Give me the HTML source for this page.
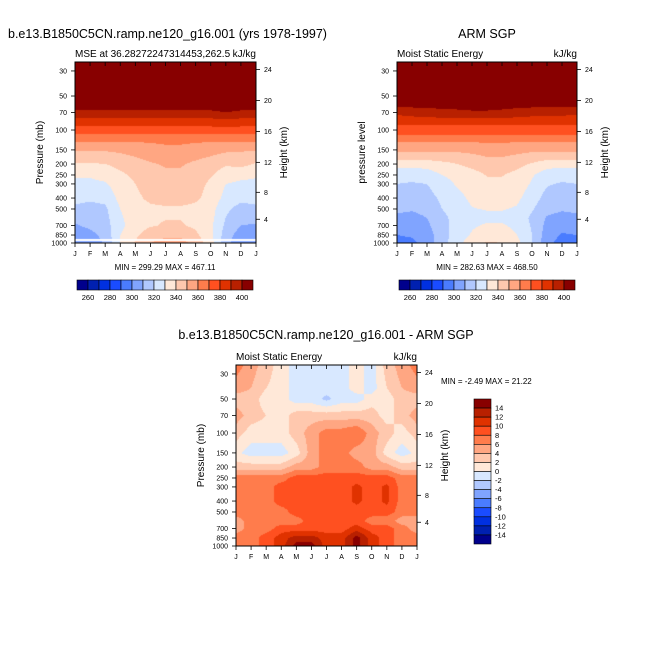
<!DOCTYPE html>
<html><head><meta charset="utf-8">
<style>
html,body{margin:0;padding:0;background:#fff;}
#root{position:relative;width:654px;height:654px;overflow:hidden;font-family:"Liberation Sans",sans-serif;}
svg{position:absolute;left:0;top:0;}
canvas{position:absolute;}
</style></head>
<body>
<div id="root">
<canvas id="c1"></canvas>
<canvas id="c2"></canvas>
<canvas id="c3"></canvas>
<svg id="s" width="654" height="654"></svg>
</div>
<script>
const months = ['J','F','M','A','M','J','J','A','S','O','N','D','J'];
const pTicks = [30,50,70,100,150,200,250,300,400,500,700,850,1000];
const hTicks = [4,8,12,16,20,24];
const mseLevels = [260,270,280,290,300,310,320,330,340,350,360,370,380,390,400];
const mseLabels = [260,280,300,320,340,360,380,400];
const diffLevels = [-14,-12,-10,-8,-6,-4,-2,0,2,4,6,8,10,12,14];
const colors = ['#00008c','#0020b0','#0030e0','#1a4cff','#4a7cff','#80a4ff','#b0c8ff','#d8e8ff','#ffe8d8','#ffc8ae','#ffa682','#ff7c4c','#ff5020','#e03200','#b82000','#880000'];

const modelP = [25,60,70,85,100,120,130,150,200,250,300,400,500,700,850,1000];
const modelV = [
[450,450,450,450,450,450,450,450,450,450,450,450,450],
[405,405,405,405,405,405,405,405,405,405,405,405,405],
[398,398,398,398,398,398,398,398,398,398,400,398,398],
[385,385,385,385,385,385,385,385,385,385,386,385,385],
[376,376,376,376,375,375,374,374,375,376,376,376,376],
[364,364,364,364,364,364,364,364,364,364,364,364,364],
[359,359,359,359,359,360,361,361,360,359,359,359,359],
[351,351,351,352,354,356,357,357,356,354,352,351,351],
[339,339,340,343,346,349,351,351,348,345,341,343,339],
[331,331,333,338,342,346,348,348,346,341,335,333,331],
[328,328,329,335,340,344,347,347,344,338,330,328,328],
[323,322,323,333,338,342,345,345,342,336,327,323,323],
[318,316,318,330,336,338,338,338,337,334,322,316,318],
[309,312,316,327,336,339,341,341,338,332,318,310,309],
[305,307,313,330,338,345,348,348,342,333,315,305,305],
[303,305,311,331,341,350,354,354,346,334,313,303,303]];

const obsP = [25,60,70,85,100,110,130,150,180,200,250,300,400,500,600,850,1000];
const obsV = [
[450,450,450,450,450,450,450,450,450,450,450,450,450],
[403,403,403,403,403,403,403,403,403,403,403,403,403],
[392,394,396,397,398,399,399,398,396,394,393,393,392],
[384,384,384,384,384,384,384,384,384,384,384,384,384],
[374,374,374,374,374,374,373,373,374,374,374,374,374],
[370,370,370,370,370,370,370,370,370,370,370,370,370],
[359,359,359,359,359,359,360,360,359,359,359,359,359],
[352,352,352,352,352,353,354,354,353,352,352,352,352],
[342,342,342,343,344,346,349,349,347,344,342,342,342],
[334,333,334,337,340,343,346,346,343,339,334,333,334],
[324,324,325,330,333,336,340.5,340.5,337,331,325,324,324],
[320,319,320,326,331,334,338,338,335,329,321,319,320],
[315,314,316,322,327,332,335,335,332,325,316,314,315],
[312,311,313,320,325,329.5,330.5,330.5,329,321,313,311,312],
[308,307,310,317,324,327,328,328,326,318,309,307,308],
[300,301,306,315,325,331,335,335,330,320,305,299,300],
[297,298,304,316,327,335,341,340,333,320,303,296,297]];

const diffP = [25,40,50,70,100,150,200,250,300,400,500,600,700,850,1000];
const diffV = [
[7,5,3,1,-1,-1,-1,-1,1,-1,3,5,7],
[5,4,2,1,-1,-1,-1,-1,1,-1,2,4,5],
[3,3,1,1,-1,-1,-2.5,-1,-1,1,1,3,3],
[5,3,2,1,3,3,3,3,3,3,1,3,5],
[3,1,1,1,3,5,7,7,8,5,3,1,3],
[0.5,-1,-1,-1,1,5,7,7,5,5,1,-1,0.5],
[3,3,3,3,5,5,7,7,7,5,5,3,3],
[7,7,7,7,9,9,9,9,9,9,9,7,7],
[7,7,7,9,9,9,9,9,10.5,9,10.5,7,7],
[7,7,7,9,9,9,9,9,10.5,9,10.5,7,7],
[7,7,7,7,9,9,9,9,9,9,9,7,7],
[5,7,7,7,7,9,9,9,9,7,7,5,5],
[5,7,7,9,9,9,9,9,11,9,9,7,5],
[7,7,9,11,13,13,11,11,15,11,9,7,7],
[7,7,9,11,15,15,11,11,15,11,9,7,7]];

const S = document.getElementById('s');
const NS = 'http://www.w3.org/2000/svg';
function mk(tag, attrs, name){
  const el = document.createElementNS(NS, tag);
  for (const k in attrs) el.setAttribute(k, attrs[k]);
  
  
  S.appendChild(el);
  return el;
}
function txt(x,y,s,size,anchor,name,rot){
  const t = mk('text',{x:x,y:y,'font-size':size,'text-anchor':anchor||'start','font-family':'Liberation Sans, sans-serif',fill:'#000'},name);
  if (rot) t.setAttribute('transform','rotate(-90 '+x+' '+y+')');
  t.textContent = s;
  return t;
}
const lp = Math.log10;
function stdP(zkm){const z=zkm*1000; if(z<=11000) return 1013.25*Math.pow(1-2.25577e-5*z,5.25588); return 226.32*Math.exp(-(z-11000)/6341.6);}
function colorIdx(v, levels){let i=0; while(i<levels.length && v>=levels[i]) i++; return i;}

function interp(P, V, m, p){
  const L = lp(p);
  let r=0; while(r<P.length-2 && lp(P[r+1])<L) r++;
  let t = (L-lp(P[r]))/(lp(P[r+1])-lp(P[r])); t=Math.max(0,Math.min(1,t));
  const c = Math.min(11, Math.floor(m)); const u = m-c;
  const a = V[r][c]*(1-u)+V[r][c+1]*u;
  const b = V[r+1][c]*(1-u)+V[r+1][c+1]*u;
  return a*(1-t)+b*t;
}

function panel(o){
  const {x0,y0,w,h,P,V,levels,cid,pre} = o;
  const pTop=25, pBot=1000;
  const yOf = p => y0 + (lp(p)-lp(pTop))/(lp(pBot)-lp(pTop))*h;
  const pOf = y => Math.pow(10, lp(pTop)+(y-y0)/h*(lp(pBot)-lp(pTop)));
  const xOf = m => x0 + m/12*w;
  const cv = document.getElementById(cid);
  cv.width=w; cv.height=h; cv.style.left=x0+'px'; cv.style.top=y0+'px';
  const ctx = cv.getContext('2d');
  for (let j=0;j<h;j++){
    const p = pOf(y0+j+0.5);
    for (let i=0;i<w;i++){
      const m = (i+0.5)/w*12;
      ctx.fillStyle = colors[colorIdx(interp(P,V,m,p),levels)];
      ctx.fillRect(i,j,1,1);
    }
  }
  if (o.gap) { ctx.fillStyle='#fff'; ctx.fillRect(0,h-4,w,2); }
  mk('rect',{x:x0,y:y0,width:w,height:h,fill:'none',stroke:'#000','stroke-width':1},pre+'-frame');
  months.forEach((mn,i)=>{
    const x = xOf(i);
    mk('line',{x1:x,y1:y0,x2:x,y2:y0+4,stroke:'#000','stroke-width':0.8},pre+'-top-tick');
    mk('line',{x1:x,y1:y0+h,x2:x,y2:y0+h+4,stroke:'#000','stroke-width':0.8},pre+'-bottom-tick');
    txt(x,y0+h+13,mn,7,'middle',pre+'-month-label');
  });
  pTicks.forEach(p=>{
    const y = yOf(p);
    mk('line',{x1:x0-4,y1:y,x2:x0,y2:y,stroke:'#000','stroke-width':0.8},pre+'-pressure-tick');
    txt(x0-8,y+2.5,String(p),7,'end',pre+'-pressure-label');
  });
  hTicks.forEach(z=>{
    const y = yOf(stdP(z));
    mk('line',{x1:x0+w,y1:y,x2:x0+w+4,y2:y,stroke:'#000','stroke-width':0.8},pre+'-height-tick');
    txt(x0+w+8,y+2.5,String(z),7,'start',pre+'-height-label');
  });
  txt(x0-32,y0+h/2,o.ylab,10,'middle',pre+'-y-axis-title',true);
  txt(x0+w+31,y0+h/2,'Height (km)',10,'middle',pre+'-height-axis-title',true);
  txt(x0,y0-5,o.sub,10,'start',pre+'-subtitle');
  txt(x0+w,y0-5,'kJ/kg',10,'end',pre+'-units');
}

panel({x0:75,y0:62,w:181,h:181,P:modelP,V:modelV,levels:mseLevels,cid:'c1',pre:'model',ylab:'Pressure (mb)',sub:'MSE at 36.28272247314453,262.5',gap:true});
panel({x0:397,y0:62,w:180,h:181,P:obsP,V:obsV,levels:mseLevels,cid:'c2',pre:'obs',ylab:'pressure level',sub:'Moist Static Energy'});
panel({x0:236,y0:365,w:181,h:181,P:diffP,V:diffV,levels:diffLevels,cid:'c3',pre:'diff',ylab:'Pressure (mb)',sub:'Moist Static Energy'});

txt(8,38,'b.e13.B1850C5CN.ramp.ne120_g16.001 (yrs 1978-1997)',12.5,'start','model-title');
txt(487,38,'ARM SGP',12.5,'middle','obs-title');
txt(326,339,'b.e13.B1850C5CN.ramp.ne120_g16.001 - ARM SGP',12.5,'middle','diff-title');
txt(165,270,'MIN = 299.29 MAX = 467.11',8,'middle','model-minmax');
txt(487,270,'MIN = 282.63 MAX = 468.50',8,'middle','obs-minmax');
txt(441,384,'MIN =  -2.49 MAX =  21.22',8,'start','diff-minmax');

function hbar(x0,y0,w,h,pre){
  const bw = w/16;
  colors.forEach((c,i)=>{
    mk('rect',{x:x0+i*bw,y:y0,width:bw,height:h,fill:c,stroke:'#000','stroke-width':0.6},pre+'-colorbar-box');
  });
  mseLabels.forEach(v=>{
    const k = mseLevels.indexOf(v)+1;
    txt(x0+k*bw,y0+h+10,String(v),7.5,'middle',pre+'-colorbar-label');
  });
}
hbar(77,280,176,10,'model');
hbar(399,280,176,10,'obs');

(function vbar(x0,y0,w,h){
  const bh = h/16;
  for (let i=0;i<16;i++){
    mk('rect',{x:x0,y:y0+i*bh,width:w,height:bh,fill:colors[15-i],stroke:'#000','stroke-width':0.6},'diff-colorbar-box');
  }
  for (let k=1;k<=15;k++){
    const v = diffLevels[15-k];
    txt(x0+w+4,y0+k*bh+2.5,String(v),7.5,'start','diff-colorbar-label');
  }
})(474,399,17,145);
</script>
</body></html>
